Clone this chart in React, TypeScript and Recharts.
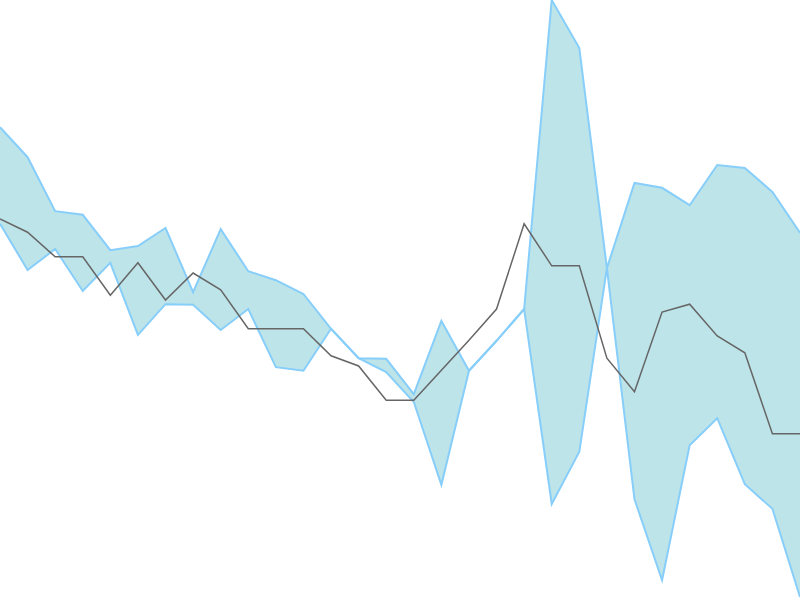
import { Area, ComposedChart, Line, XAxis, YAxis } from "recharts";

const steps = [
  0, 1, 2, 3, 4, 5, 6, 7, 8, 9, 10, 11, 12, 13, 14, 15, 16, 17, 18, 19, 20,
  21, 22, 23, 24, 25, 26, 27, 28, 29,
];

const bandA = [
  78.8, 73.8, 64.8, 64.2, 58.3, 59.0, 62.0, 51.3, 61.8, 54.8, 53.3, 51.0, 45.2,
  40.3, 40.2, 34.3, 46.5, 38.2, 43.2, 48.5, 100, 92.0, 55.3, 69.5, 68.7, 65.8,
  72.5, 72.0, 68.0, 61.2,
];

const bandB = [
  62.7, 55.0, 58.5, 51.5, 56.2, 44.2, 49.3, 49.2, 45.0, 48.5, 38.8, 38.2, 45.2,
  40.3, 38.0, 33.0, 19.2, 38.2, 43.2, 48.5, 16.0, 24.7, 55.3, 16.8, 3.3, 25.8,
  30.3, 19.3, 15.2, 0.5,
];

const trend = [
  63.5, 61.3, 57.2, 57.2, 50.8, 56.2, 50.0, 54.5, 51.7, 45.2, 45.2, 45.2, 40.7,
  39.0, 33.3, 33.3, 38.3, 43.3, 48.5, 62.7, 55.7, 55.7, 40.3, 34.7, 48.0, 49.3,
  44.0, 41.2, 27.7, 27.7,
];

const data = steps.map((s, i) => ({
  step: s,
  range: [bandB[i], bandA[i]],
  trend: trend[i],
}));

export default function App() {
  return (
    <div style={{ position: "fixed", left: 0, top: 0, width: 800, height: 600 }}>
      <ComposedChart
        width={800}
        height={600}
        data={data}
        margin={{ top: 0, right: 0, bottom: 0, left: 0 }}
      >
        <XAxis dataKey="step" type="number" domain={[0, 29]} hide />
        <YAxis domain={[0, 100]} hide />
        <Area
          type="linear"
          dataKey="range"
          stroke="#87cefa"
          strokeWidth={2}
          fill="#bde4e9"
          fillOpacity={1}
          dot={false}
          activeDot={false}
          label={false}
          isAnimationActive={false}
        />
        <Line
          type="linear"
          dataKey="trend"
          stroke="#666666"
          strokeWidth={1.5}
          dot={false}
          activeDot={false}
          label={false}
          isAnimationActive={false}
        />
      </ComposedChart>
    </div>
  );
}
